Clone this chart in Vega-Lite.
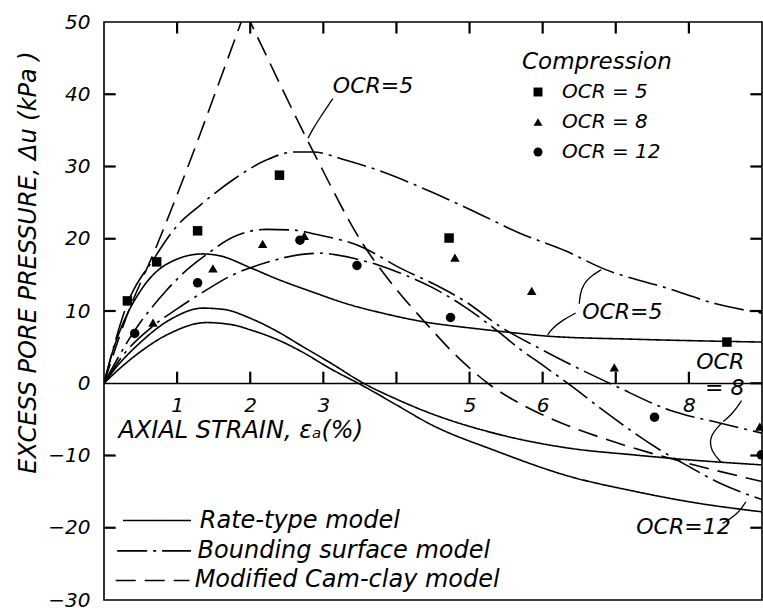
{
  "$schema": "https://vega.github.io/schema/vega-lite/v6.json",
  "autosize": {"type": "none"},
  "width": 658,
  "height": 578,
  "padding": {"left": 104, "top": 22, "right": 1, "bottom": 14},
  "background": "white",
  "config": {
    "font": "DejaVu Sans",
    "view": {"stroke": "black", "strokeWidth": 1.6},
    "axis": {"grid": false, "domainColor": "black", "domainWidth": 1.6, "labelColor": "black", "titleColor": "black", "labelFont": "DejaVu Sans", "titleFont": "DejaVu Sans"}
  },
  "datasets": {
    "curves": [
      {"curve": "RT5", "model": "Rate-type", "x": 0, "y": 0},
      {"curve": "RT5", "model": "Rate-type", "x": 0.1, "y": 3.8},
      {"curve": "RT5", "model": "Rate-type", "x": 0.22, "y": 7.3},
      {"curve": "RT5", "model": "Rate-type", "x": 0.5, "y": 12.8},
      {"curve": "RT5", "model": "Rate-type", "x": 0.86, "y": 16.5},
      {"curve": "RT5", "model": "Rate-type", "x": 1.35, "y": 17.9},
      {"curve": "RT5", "model": "Rate-type", "x": 1.6, "y": 17.6},
      {"curve": "RT5", "model": "Rate-type", "x": 2.0, "y": 16.0},
      {"curve": "RT5", "model": "Rate-type", "x": 2.4, "y": 14.3},
      {"curve": "RT5", "model": "Rate-type", "x": 2.86, "y": 12.6},
      {"curve": "RT5", "model": "Rate-type", "x": 3.32, "y": 11.0},
      {"curve": "RT5", "model": "Rate-type", "x": 3.77, "y": 9.8},
      {"curve": "RT5", "model": "Rate-type", "x": 4.32, "y": 8.6},
      {"curve": "RT5", "model": "Rate-type", "x": 5.14, "y": 7.5},
      {"curve": "RT5", "model": "Rate-type", "x": 5.68, "y": 6.9},
      {"curve": "RT5", "model": "Rate-type", "x": 6.09, "y": 6.5},
      {"curve": "RT5", "model": "Rate-type", "x": 7.23, "y": 6.1},
      {"curve": "RT5", "model": "Rate-type", "x": 9, "y": 5.7},
      {"curve": "RT8", "model": "Rate-type", "x": 0, "y": 0},
      {"curve": "RT8", "model": "Rate-type", "x": 0.2, "y": 2.6},
      {"curve": "RT8", "model": "Rate-type", "x": 0.45, "y": 5.2},
      {"curve": "RT8", "model": "Rate-type", "x": 0.92, "y": 8.9},
      {"curve": "RT8", "model": "Rate-type", "x": 1.35, "y": 10.4},
      {"curve": "RT8", "model": "Rate-type", "x": 1.65, "y": 10.2},
      {"curve": "RT8", "model": "Rate-type", "x": 2.0, "y": 9.0},
      {"curve": "RT8", "model": "Rate-type", "x": 2.4, "y": 7.0},
      {"curve": "RT8", "model": "Rate-type", "x": 2.68, "y": 5.3},
      {"curve": "RT8", "model": "Rate-type", "x": 3.1, "y": 2.8},
      {"curve": "RT8", "model": "Rate-type", "x": 3.55, "y": 0},
      {"curve": "RT8", "model": "Rate-type", "x": 4.0, "y": -2.2},
      {"curve": "RT8", "model": "Rate-type", "x": 4.45, "y": -4.1},
      {"curve": "RT8", "model": "Rate-type", "x": 5.37, "y": -7.0},
      {"curve": "RT8", "model": "Rate-type", "x": 6.37, "y": -9.0},
      {"curve": "RT8", "model": "Rate-type", "x": 7.23, "y": -9.9},
      {"curve": "RT8", "model": "Rate-type", "x": 8.0, "y": -10.6},
      {"curve": "RT8", "model": "Rate-type", "x": 9, "y": -11.3},
      {"curve": "RT12", "model": "Rate-type", "x": 0, "y": 0},
      {"curve": "RT12", "model": "Rate-type", "x": 0.2, "y": 1.9},
      {"curve": "RT12", "model": "Rate-type", "x": 0.45, "y": 4.0},
      {"curve": "RT12", "model": "Rate-type", "x": 0.9, "y": 6.9},
      {"curve": "RT12", "model": "Rate-type", "x": 1.4, "y": 8.4},
      {"curve": "RT12", "model": "Rate-type", "x": 1.75, "y": 8.1},
      {"curve": "RT12", "model": "Rate-type", "x": 2.0, "y": 7.4},
      {"curve": "RT12", "model": "Rate-type", "x": 2.4, "y": 5.9},
      {"curve": "RT12", "model": "Rate-type", "x": 2.68, "y": 4.5},
      {"curve": "RT12", "model": "Rate-type", "x": 3.1, "y": 2.0},
      {"curve": "RT12", "model": "Rate-type", "x": 3.55, "y": -0.4},
      {"curve": "RT12", "model": "Rate-type", "x": 4.0, "y": -3.0},
      {"curve": "RT12", "model": "Rate-type", "x": 4.45, "y": -5.6},
      {"curve": "RT12", "model": "Rate-type", "x": 5.37, "y": -9.4},
      {"curve": "RT12", "model": "Rate-type", "x": 6.37, "y": -12.9},
      {"curve": "RT12", "model": "Rate-type", "x": 7.23, "y": -14.9},
      {"curve": "RT12", "model": "Rate-type", "x": 8.0, "y": -16.4},
      {"curve": "RT12", "model": "Rate-type", "x": 9, "y": -17.8},
      {"curve": "BS5", "model": "Bounding surface", "x": 0, "y": 0},
      {"curve": "BS5", "model": "Bounding surface", "x": 0.3, "y": 10.5},
      {"curve": "BS5", "model": "Bounding surface", "x": 0.7, "y": 17.5},
      {"curve": "BS5", "model": "Bounding surface", "x": 1.0, "y": 21.8},
      {"curve": "BS5", "model": "Bounding surface", "x": 1.31, "y": 24.6},
      {"curve": "BS5", "model": "Bounding surface", "x": 1.77, "y": 28.2},
      {"curve": "BS5", "model": "Bounding surface", "x": 2.22, "y": 30.9},
      {"curve": "BS5", "model": "Bounding surface", "x": 2.6, "y": 32.0},
      {"curve": "BS5", "model": "Bounding surface", "x": 2.86, "y": 32.0},
      {"curve": "BS5", "model": "Bounding surface", "x": 3.3, "y": 30.9},
      {"curve": "BS5", "model": "Bounding surface", "x": 3.77, "y": 29.4},
      {"curve": "BS5", "model": "Bounding surface", "x": 4.45, "y": 26.6},
      {"curve": "BS5", "model": "Bounding surface", "x": 5.14, "y": 23.4},
      {"curve": "BS5", "model": "Bounding surface", "x": 5.68, "y": 20.8},
      {"curve": "BS5", "model": "Bounding surface", "x": 6.32, "y": 18.3},
      {"curve": "BS5", "model": "Bounding surface", "x": 6.82, "y": 15.9},
      {"curve": "BS5", "model": "Bounding surface", "x": 7.69, "y": 13.2},
      {"curve": "BS5", "model": "Bounding surface", "x": 8.37, "y": 11.0},
      {"curve": "BS5", "model": "Bounding surface", "x": 9, "y": 9.7},
      {"curve": "BS8", "model": "Bounding surface", "x": 0, "y": 0},
      {"curve": "BS8", "model": "Bounding surface", "x": 0.4, "y": 7.0},
      {"curve": "BS8", "model": "Bounding surface", "x": 0.85, "y": 12.8},
      {"curve": "BS8", "model": "Bounding surface", "x": 1.08, "y": 15.2},
      {"curve": "BS8", "model": "Bounding surface", "x": 1.4, "y": 17.8},
      {"curve": "BS8", "model": "Bounding surface", "x": 1.76, "y": 20.2},
      {"curve": "BS8", "model": "Bounding surface", "x": 2.22, "y": 21.3},
      {"curve": "BS8", "model": "Bounding surface", "x": 2.6, "y": 21.2},
      {"curve": "BS8", "model": "Bounding surface", "x": 2.86, "y": 20.7},
      {"curve": "BS8", "model": "Bounding surface", "x": 3.54, "y": 18.8},
      {"curve": "BS8", "model": "Bounding surface", "x": 4.04, "y": 16.0},
      {"curve": "BS8", "model": "Bounding surface", "x": 4.5, "y": 13.8},
      {"curve": "BS8", "model": "Bounding surface", "x": 4.96, "y": 11.2},
      {"curve": "BS8", "model": "Bounding surface", "x": 5.41, "y": 7.9},
      {"curve": "BS8", "model": "Bounding surface", "x": 6.0, "y": 4.6},
      {"curve": "BS8", "model": "Bounding surface", "x": 6.5, "y": 2.0},
      {"curve": "BS8", "model": "Bounding surface", "x": 7.0, "y": -0.4},
      {"curve": "BS8", "model": "Bounding surface", "x": 7.73, "y": -3.7},
      {"curve": "BS8", "model": "Bounding surface", "x": 8.42, "y": -5.5},
      {"curve": "BS8", "model": "Bounding surface", "x": 9, "y": -6.9},
      {"curve": "BS12", "model": "Bounding surface", "x": 0, "y": 0},
      {"curve": "BS12", "model": "Bounding surface", "x": 0.27, "y": 4.0},
      {"curve": "BS12", "model": "Bounding surface", "x": 0.68, "y": 8.0},
      {"curve": "BS12", "model": "Bounding surface", "x": 1.0, "y": 10.3},
      {"curve": "BS12", "model": "Bounding surface", "x": 1.32, "y": 12.4},
      {"curve": "BS12", "model": "Bounding surface", "x": 1.76, "y": 15.0},
      {"curve": "BS12", "model": "Bounding surface", "x": 2.22, "y": 16.7},
      {"curve": "BS12", "model": "Bounding surface", "x": 2.68, "y": 17.8},
      {"curve": "BS12", "model": "Bounding surface", "x": 2.95, "y": 18.0},
      {"curve": "BS12", "model": "Bounding surface", "x": 3.45, "y": 17.2},
      {"curve": "BS12", "model": "Bounding surface", "x": 3.77, "y": 16.3},
      {"curve": "BS12", "model": "Bounding surface", "x": 4.04, "y": 15.3},
      {"curve": "BS12", "model": "Bounding surface", "x": 4.5, "y": 13.2},
      {"curve": "BS12", "model": "Bounding surface", "x": 4.96, "y": 10.4},
      {"curve": "BS12", "model": "Bounding surface", "x": 5.41, "y": 7.0},
      {"curve": "BS12", "model": "Bounding surface", "x": 5.68, "y": 4.8},
      {"curve": "BS12", "model": "Bounding surface", "x": 6.0, "y": 2.5},
      {"curve": "BS12", "model": "Bounding surface", "x": 6.41, "y": -0.5},
      {"curve": "BS12", "model": "Bounding surface", "x": 6.82, "y": -3.7},
      {"curve": "BS12", "model": "Bounding surface", "x": 7.6, "y": -9.2},
      {"curve": "BS12", "model": "Bounding surface", "x": 7.96, "y": -11.3},
      {"curve": "BS12", "model": "Bounding surface", "x": 8.42, "y": -13.8},
      {"curve": "BS12", "model": "Bounding surface", "x": 9, "y": -16.1},
      {"curve": "MCC5a", "model": "Modified Cam-clay", "x": 0, "y": 0},
      {"curve": "MCC5a", "model": "Modified Cam-clay", "x": 0.3, "y": 9.0},
      {"curve": "MCC5a", "model": "Modified Cam-clay", "x": 0.72, "y": 19.0},
      {"curve": "MCC5a", "model": "Modified Cam-clay", "x": 1.13, "y": 29.5},
      {"curve": "MCC5a", "model": "Modified Cam-clay", "x": 1.49, "y": 39.3},
      {"curve": "MCC5a", "model": "Modified Cam-clay", "x": 1.93, "y": 51.5},
      {"curve": "MCC5b", "model": "Modified Cam-clay", "x": 1.93, "y": 51.5},
      {"curve": "MCC5b", "model": "Modified Cam-clay", "x": 2.02, "y": 49.6},
      {"curve": "MCC5b", "model": "Modified Cam-clay", "x": 2.86, "y": 32.1},
      {"curve": "MCC5b", "model": "Modified Cam-clay", "x": 3.54, "y": 19.3},
      {"curve": "MCC5b", "model": "Modified Cam-clay", "x": 4.04, "y": 12.5},
      {"curve": "MCC5b", "model": "Modified Cam-clay", "x": 4.36, "y": 8.8},
      {"curve": "MCC5b", "model": "Modified Cam-clay", "x": 4.8, "y": 4.0},
      {"curve": "MCC5b", "model": "Modified Cam-clay", "x": 5.25, "y": 0},
      {"curve": "MCC5b", "model": "Modified Cam-clay", "x": 5.86, "y": -3.7},
      {"curve": "MCC5b", "model": "Modified Cam-clay", "x": 6.23, "y": -5.4},
      {"curve": "MCC5b", "model": "Modified Cam-clay", "x": 6.91, "y": -7.9},
      {"curve": "MCC5b", "model": "Modified Cam-clay", "x": 7.96, "y": -11.0},
      {"curve": "MCC5b", "model": "Modified Cam-clay", "x": 9, "y": -13.6}
    ],
    "points": [
      {"ocr": "OCR = 5", "x": 0.32, "y": 11.4},
      {"ocr": "OCR = 5", "x": 0.72, "y": 16.8},
      {"ocr": "OCR = 5", "x": 1.28, "y": 21.1},
      {"ocr": "OCR = 5", "x": 2.4, "y": 28.8},
      {"ocr": "OCR = 5", "x": 4.72, "y": 20.1},
      {"ocr": "OCR = 5", "x": 8.52, "y": 5.7},
      {"ocr": "OCR = 8", "x": 0.67, "y": 8.4},
      {"ocr": "OCR = 8", "x": 1.49, "y": 15.9},
      {"ocr": "OCR = 8", "x": 2.17, "y": 19.3},
      {"ocr": "OCR = 8", "x": 2.74, "y": 20.4},
      {"ocr": "OCR = 8", "x": 4.8, "y": 17.4},
      {"ocr": "OCR = 8", "x": 5.85, "y": 12.8},
      {"ocr": "OCR = 8", "x": 6.98, "y": 2.2},
      {"ocr": "OCR = 8", "x": 8.97, "y": -6.0},
      {"ocr": "OCR = 12", "x": 0.42, "y": 6.9},
      {"ocr": "OCR = 12", "x": 1.28, "y": 13.9},
      {"ocr": "OCR = 12", "x": 2.68, "y": 19.8},
      {"ocr": "OCR = 12", "x": 3.46, "y": 16.3},
      {"ocr": "OCR = 12", "x": 4.74, "y": 9.1},
      {"ocr": "OCR = 12", "x": 7.53, "y": -4.7},
      {"ocr": "OCR = 12", "x": 8.99, "y": -9.9}
    ],
    "key": [
      {"model": "Rate-type", "x": 0.26, "y": -19.0},
      {"model": "Rate-type", "x": 1.19, "y": -19.0},
      {"model": "Bounding surface", "x": 0.18, "y": -23.2},
      {"model": "Bounding surface", "x": 1.19, "y": -23.2},
      {"model": "Modified Cam-clay", "x": 0.16, "y": -27.3},
      {"model": "Modified Cam-clay", "x": 1.17, "y": -27.3}
    ],
    "keytext": [
      {"label": "Rate-type model", "x": 1.31, "y": -19.0},
      {"label": "Bounding surface model", "x": 1.28, "y": -23.2},
      {"label": "Modified Cam-clay model", "x": 1.24, "y": -27.3}
    ],
    "notes": [
      {"label": "OCR=5", "x": 3.13, "y": 41.1},
      {"label": "OCR=5", "x": 6.54, "y": 9.8},
      {"label": "OCR", "x": 8.1, "y": 2.9},
      {"label": "= 8", "x": 8.22, "y": -0.7},
      {"label": "OCR=12", "x": 7.28, "y": -19.9}
    ],
    "arrows": [
      {"arrow": "a1", "step": 1, "x": 3.13, "y": 39.4},
      {"arrow": "a1", "step": 2, "x": 2.95, "y": 36.7},
      {"arrow": "a1", "step": 3, "x": 2.84, "y": 34.9},
      {"arrow": "a1", "step": 4, "x": 2.79, "y": 33.9},
      {"arrow": "a2", "step": 1, "x": 6.5, "y": 11.0},
      {"arrow": "a2", "step": 2, "x": 6.52, "y": 13.0},
      {"arrow": "a2", "step": 3, "x": 6.62, "y": 14.6},
      {"arrow": "a2", "step": 4, "x": 6.8, "y": 15.7},
      {"arrow": "a3", "step": 1, "x": 6.45, "y": 9.7},
      {"arrow": "a3", "step": 2, "x": 6.28, "y": 8.8},
      {"arrow": "a3", "step": 3, "x": 6.12, "y": 7.5},
      {"arrow": "a3", "step": 4, "x": 6.07, "y": 6.7},
      {"arrow": "a4", "step": 1, "x": 8.72, "y": -2.4},
      {"arrow": "a4", "step": 2, "x": 8.6, "y": -4.2},
      {"arrow": "a4", "step": 3, "x": 8.47, "y": -5.3},
      {"arrow": "a5", "step": 1, "x": 8.45, "y": -5.5},
      {"arrow": "a5", "step": 2, "x": 8.28, "y": -7.3},
      {"arrow": "a5", "step": 3, "x": 8.3, "y": -9.4},
      {"arrow": "a5", "step": 4, "x": 8.44, "y": -10.9},
      {"arrow": "a6", "step": 1, "x": 8.46, "y": -19.4},
      {"arrow": "a6", "step": 2, "x": 8.66, "y": -18.2},
      {"arrow": "a6", "step": 3, "x": 8.78, "y": -16.4}
    ],
    "xticks": [
      {"strain": 1}, {"strain": 2}, {"strain": 3}, {"strain": 4},
      {"strain": 5}, {"strain": 6}, {"strain": 7}, {"strain": 8}
    ],
    "yticks": [
      {"pressure": -20}, {"pressure": -10}, {"pressure": 0}, {"pressure": 10},
      {"pressure": 20}, {"pressure": 30}, {"pressure": 40}
    ]
  },
  "layer": [
    {
      "data": {"name": "curves"},
      "mark": {"type": "line", "interpolate": "monotone", "clip": true, "color": "black", "strokeWidth": 1.6},
      "encoding": {
        "x": {"field": "x", "type": "quantitative", "scale": {"domain": [0, 9], "nice": false, "zero": false},
          "axis": {"orient": "bottom", "offset": -217, "values": [1, 2, 3, 4, 5, 6, 7, 8], "format": "d", "ticks": false, "labelFontSize": 20, "labelFontStyle": "italic", "labelPadding": 12, "labelExpr": "datum.value == 4 || datum.value == 7 ? '' : datum.label", "title": "AXIAL STRAIN, εₐ(%)", "titleX": 14, "titleY": 47, "titleAlign": "left", "titleBaseline": "middle", "titleAnchor": null, "titleFontSize": 24, "titleFontWeight": "normal", "titleFontStyle": "italic"}},
        "y": {"field": "y", "type": "quantitative", "scale": {"domain": [-30, 50], "nice": false, "zero": false},
          "axis": {"orient": "left", "values": [-30, -20, -10, 0, 10, 20, 30, 40, 50], "format": "d", "ticks": false, "domain": false, "labelFontSize": 20, "labelFontStyle": "italic", "labelPadding": 14, "title": "EXCESS PORE PRESSURE, Δu (kPa )", "titleX": -76, "titleY": 240, "titleAngle": 270, "titleAlign": "center", "titleBaseline": "middle", "titleAnchor": null, "titleFontSize": 24, "titleFontWeight": "normal", "titleFontStyle": "italic"}},
        "strokeDash": {"field": "model", "type": "nominal", "scale": {"domain": ["Rate-type", "Bounding surface", "Modified Cam-clay"], "range": [[1, 0], [30, 6, 3, 6], [20, 9]]}, "legend": null},
        "detail": {"field": "curve", "type": "nominal"}
      }
    },
    {
      "data": {"name": "xticks"},
      "mark": {"type": "rule", "color": "black", "strokeWidth": 2.2},
      "encoding": {
        "x": {"field": "strain", "type": "quantitative"},
        "y": {"datum": 0, "type": "quantitative"},
        "y2": {"datum": 1.6}
      }
    },
    {
      "data": {"name": "xticks"},
      "mark": {"type": "rule", "color": "black", "strokeWidth": 2.2},
      "encoding": {
        "x": {"field": "strain", "type": "quantitative"},
        "y": {"datum": 50, "type": "quantitative"},
        "y2": {"datum": 48.4}
      }
    },
    {
      "data": {"name": "yticks"},
      "transform": [{"filter": "datum.pressure != 0"}],
      "mark": {"type": "rule", "color": "black", "strokeWidth": 2.2},
      "encoding": {
        "y": {"field": "pressure", "type": "quantitative"},
        "x": {"datum": 0, "type": "quantitative"},
        "x2": {"datum": 0.16}
      }
    },
    {
      "data": {"name": "yticks"},
      "mark": {"type": "rule", "color": "black", "strokeWidth": 2.2},
      "encoding": {
        "y": {"field": "pressure", "type": "quantitative"},
        "x": {"datum": 9, "type": "quantitative"},
        "x2": {"datum": 8.84}
      }
    },
    {
      "data": {"name": "points"},
      "mark": {"type": "point", "filled": true, "color": "black", "opacity": 1, "size": 90},
      "encoding": {
        "x": {"field": "x", "type": "quantitative"},
        "y": {"field": "y", "type": "quantitative"},
        "shape": {"field": "ocr", "type": "nominal", "scale": {"domain": ["OCR = 5", "OCR = 8", "OCR = 12"], "range": ["square", "triangle-up", "circle"]},
          "legend": {"title": "Compression", "orient": "none", "legendX": 418, "legendY": 29, "padding": 0, "titleFontSize": 23, "titleFontStyle": "italic", "titleFontWeight": "normal", "titleColor": "black", "titleFont": "DejaVu Sans", "titlePadding": 8, "labelFontSize": 20, "labelFontStyle": "italic", "labelColor": "black", "labelFont": "DejaVu Sans", "symbolSize": 80, "symbolFillColor": "black", "symbolStrokeColor": "black", "symbolOffset": 6, "labelOffset": 14, "rowPadding": 10}}
      }
    },
    {
      "data": {"name": "key"},
      "mark": {"type": "line", "color": "black", "strokeWidth": 1.6},
      "encoding": {
        "x": {"field": "x", "type": "quantitative"},
        "y": {"field": "y", "type": "quantitative"},
        "strokeDash": {"field": "model", "type": "nominal", "scale": {"domain": ["Rate-type", "Bounding surface", "Modified Cam-clay"], "range": [[1, 0], [30, 6, 3, 6], [20, 9]]}, "legend": null},
        "detail": {"field": "model", "type": "nominal"}
      }
    },
    {
      "data": {"name": "keytext"},
      "mark": {"type": "text", "align": "left", "baseline": "middle", "fontSize": 24, "fontStyle": "italic", "color": "black"},
      "encoding": {
        "x": {"field": "x", "type": "quantitative"},
        "y": {"field": "y", "type": "quantitative"},
        "text": {"field": "label", "type": "nominal"}
      }
    },
    {
      "data": {"name": "notes"},
      "mark": {"type": "text", "align": "left", "baseline": "middle", "fontSize": 22, "fontStyle": "italic", "color": "black"},
      "encoding": {
        "x": {"field": "x", "type": "quantitative"},
        "y": {"field": "y", "type": "quantitative"},
        "text": {"field": "label", "type": "nominal"}
      }
    },
    {
      "data": {"name": "arrows"},
      "mark": {"type": "line", "interpolate": "basis", "color": "black", "strokeWidth": 1.3},
      "encoding": {
        "x": {"field": "x", "type": "quantitative"},
        "y": {"field": "y", "type": "quantitative"},
        "order": {"field": "step", "type": "quantitative"},
        "detail": {"field": "arrow", "type": "nominal"}
      }
    }
  ]
}
